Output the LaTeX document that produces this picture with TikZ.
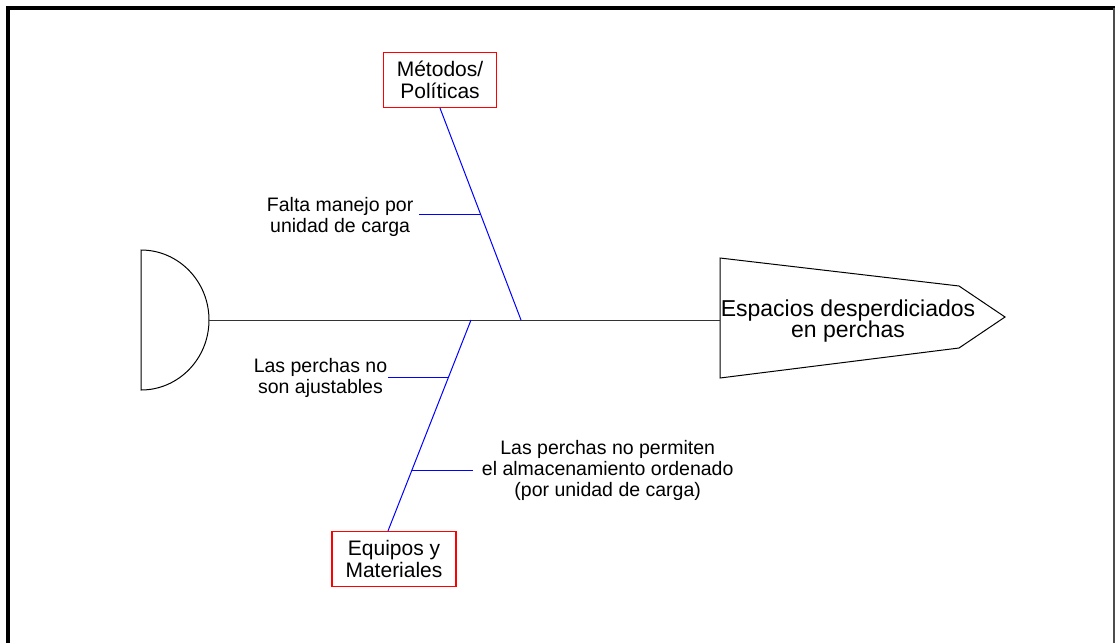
\documentclass[tikz,border=0pt]{standalone}
\usepackage{fontspec}
\setmainfont{Liberation Sans}
\usetikzlibrary{calc,positioning}

\begin{document}
\begin{tikzpicture}[x=1pt, y=-1pt,
    hueso/.style={draw=blue, line width=1pt},
    rama/.style={draw=blue, line width=1pt},
    espina/.style={draw=black!80, line width=1pt},
    contorno/.style={draw=black, line width=1pt},
    causa/.style={draw=red, line width=1.2pt, align=center, inner xsep=13.5pt,
        minimum height=55pt, font=\fontsize{21}{21.5}\selectfont},
    lbl/.style={align=center, inner sep=1pt, font=\fontsize{19.5}{21}\selectfont},
    efecto/.style={align=center, inner sep=0pt, font=\fontsize{23}{21.5}\selectfont}]
    \useasboundingbox (0,0) rectangle (1115,643);
    % marco
    \draw[line width=4pt] (8,643) -- (8,8) -- (1115,8);
    \draw[line width=1.5pt, black!70] (1114,8) -- (1114,643);
    % espina, cola y cabeza
    \coordinate (cola) at (209,320);
    \coordinate (j2) at (471,320);
    \coordinate (j1) at (521,320);
    \coordinate (cabeza) at (720,320);
    \draw[contorno] (141,250) arc[start angle=-90, end angle=90, x radius=68, y radius=70] -- cycle;
    \draw[contorno] (720,258) -- (959,286) -- (1005,317) -- (959,348) -- (720,378) -- cycle;
    \draw[espina] (cola) -- (cabeza);
    \node[efecto] (efecto) at (848,321) {Espacios desperdiciados\\en perchas};
    % causas
    \node[causa] (metodos) at (440,80) {Métodos/\\Políticas};
    \node[causa] (equipos) at (394,559) {Equipos y\\Materiales};
    \coordinate (e1) at ([xshift=-6pt]equipos.north);
    \draw[hueso] (metodos.south) -- (j1);
    \draw[hueso] (j2) -- (e1);
    \coordinate (r1) at ($(metodos.south)!0.5!(j1)$);
    \coordinate (r2) at ($(j2)!0.273!(e1)$);
    \coordinate (r3) at ($(j2)!0.714!(e1)$);
    % subcausas
    \node[lbl, anchor=east] (falta) at ([xshift=-66pt, yshift=-3pt]r1) {Falta manejo por\\unidad de carga};
    \node[lbl, anchor=east] (ajust) at ([xshift=-60pt]r2) {Las perchas no\\son ajustables};
    \node[lbl, anchor=west] (orden) at ([xshift=69pt]r3) {Las perchas no permiten\\el almacenamiento ordenado\\(por unidad de carga)};
    \draw[rama, shorten >=4pt] (r1) -- (falta.east |- r1);
    \draw[rama] (r2) -- (ajust.east);
    \draw[rama, shorten >=8pt] (r3) -- (orden.west);
\end{tikzpicture}
\end{document}
